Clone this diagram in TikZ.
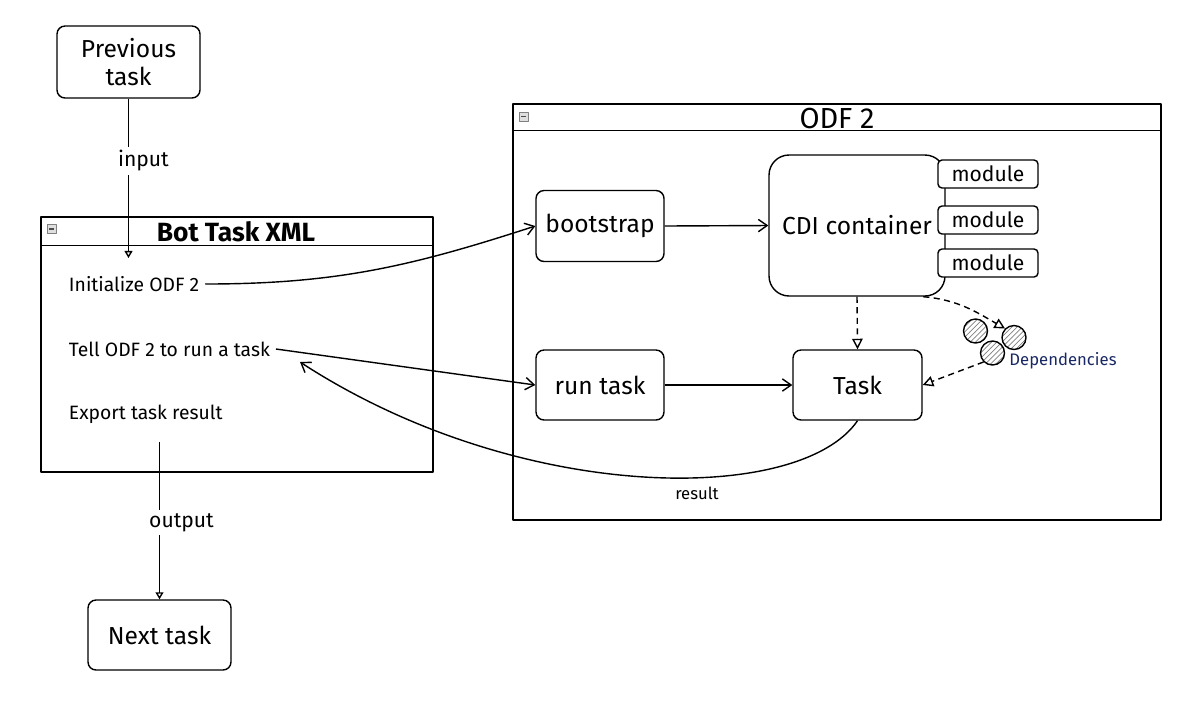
\documentclass[tikz,border=0pt]{standalone}
\usepackage{fontspec}
\setmainfont{Fira Sans}
\usetikzlibrary{arrows.meta,patterns}
\definecolor{depblue}{RGB}{25,40,100}
\begin{document}
\begin{tikzpicture}[x=0.02cm,y=-0.02cm,line width=0.8pt,line join=round,
  box/.style={draw,rounded corners=0.16cm,align=center,inner sep=0pt,
    font=\fontsize{14}{16}\selectfont},
  cdibox/.style={box,rounded corners=0.4cm},
  modbox/.style={draw,fill=white,rounded corners=0.08cm,inner sep=0pt,
    minimum width=2.0cm,minimum height=0.56cm,font=\fontsize{12}{14}\selectfont},
  container/.style={draw,inner sep=0pt},
  headtitle/.style={inner sep=1pt,font=\fontsize{16.5}{18}\selectfont},
  icon/.style={draw=gray,fill=gray!25,line width=0.4pt,minimum size=0.18cm,inner sep=0pt,
    path picture={\draw[line width=0.6pt,black!70]
      ([xshift=-0.05cm]path picture bounding box.center) --
      ([xshift=0.05cm]path picture bounding box.center);}},
  txt/.style={inner sep=3pt,font=\fontsize{11}{13}\selectfont},
  lbl/.style={fill=white,inner sep=2pt,font=\fontsize{12}{14}\selectfont},
  smalllbl/.style={inner sep=1pt,font=\fontsize{9.5}{12}\selectfont},
  arr/.style={-{Straight Barb[length=5pt,width=7pt]}},
  tarr/.style={-{Triangle[open,length=4pt,width=4.5pt]}},
  dasharr/.style={-{Triangle[open,length=6pt,width=6pt]},dash pattern=on 3.5pt off 2.5pt},
  dep/.style={circle,draw,pattern=north east lines,pattern color=gray,inner sep=0pt,minimum size=0.48cm}
]
\useasboundingbox (0,0) rectangle (1192,701);

% left column
\node[box,minimum width=2.86cm,minimum height=1.44cm] (prev) at (128.5,62) {Previous\\task};
\node[container,minimum width=7.84cm,minimum height=5.10cm] (bot) at (237,344.5) {};
\draw ([yshift=-0.58cm]bot.north west) -- ([yshift=-0.58cm]bot.north east);
\node[icon] (boticon) at (51.5,229) {};
\node[headtitle,font=\fontsize{15}{18}\selectfont\bfseries] (bottitle) at (236,232) {Bot Task XML};
\node[txt,anchor=west] (init) at (63,284) {Initialize ODF 2};
\node[txt,anchor=west] (tell) at (63,349) {Tell ODF 2 to run a task};
\node[txt,anchor=west] (export) at (63,414) {Export task result};
\node[box,minimum width=2.86cm,minimum height=1.40cm] (next) at (159.5,635) {Next task};
\coordinate (inend) at (128.5,258);
\coordinate (resin) at (300,362);

% ODF 2 container
\node[container,minimum width=12.96cm,minimum height=8.32cm] (odf) at (837,312) {};
\draw ([yshift=-0.54cm]odf.north west) -- ([yshift=-0.54cm]odf.north east);
\node[icon] (odficon) at (523.5,116.5) {};
\node[headtitle] (odftitle) at (837,119) {ODF 2};

\node[box,minimum width=2.56cm,minimum height=1.42cm] (boot) at (600,226) {bootstrap};
\node[cdibox,minimum width=3.52cm,minimum height=2.82cm] (cdi) at (857,225.5) {CDI container};
\node[modbox] (mod1) at (988,174) {module};
\node[modbox] (mod2) at (988,220) {module};
\node[modbox] (mod3) at (988,263) {module};
\node[box,minimum width=2.56cm,minimum height=1.40cm] (run) at (600,385) {run task};
\node[box,minimum width=2.58cm,minimum height=1.40cm] (task) at (857.5,385) {Task};

\node[dep] (dep1) at (975.5,331) {};
\node[dep] (dep2) at (1014,337.5) {};
\node[dep] (dep3) at (992.5,353) {};
\node[smalllbl,text=depblue] (deplbl) at (1063,361) {Dependencies};

% connectors
\draw[tarr] (prev.south) -- node[lbl,pos=0.39,xshift=0.3cm] {input} (inend);
\draw[tarr,shorten <=0.25cm] (next.north |- export.south) -- node[lbl,pos=0.55,xshift=0.44cm] {output} (next.north);
\draw[arr] (init.east) to[out=0,in=198] (boot.west);
\draw[arr] (tell.east) -- (run.west);
\draw[arr] (boot.east) -- (cdi.west);
\draw[arr] (run.east) -- (task.west);
\draw[dasharr] (cdi.south) -- (task.north);
\draw[dasharr] ([xshift=-0.45cm]cdi.south east) to[out=-5,in=150] (dep2.north west);
\draw[dasharr] (dep3.south west) -- (task.east);
\draw[arr] (task.south) .. controls (800,505) and (520,505) .. (resin)
  node[smalllbl] at (697,493) {result};
\end{tikzpicture}
\end{document}
